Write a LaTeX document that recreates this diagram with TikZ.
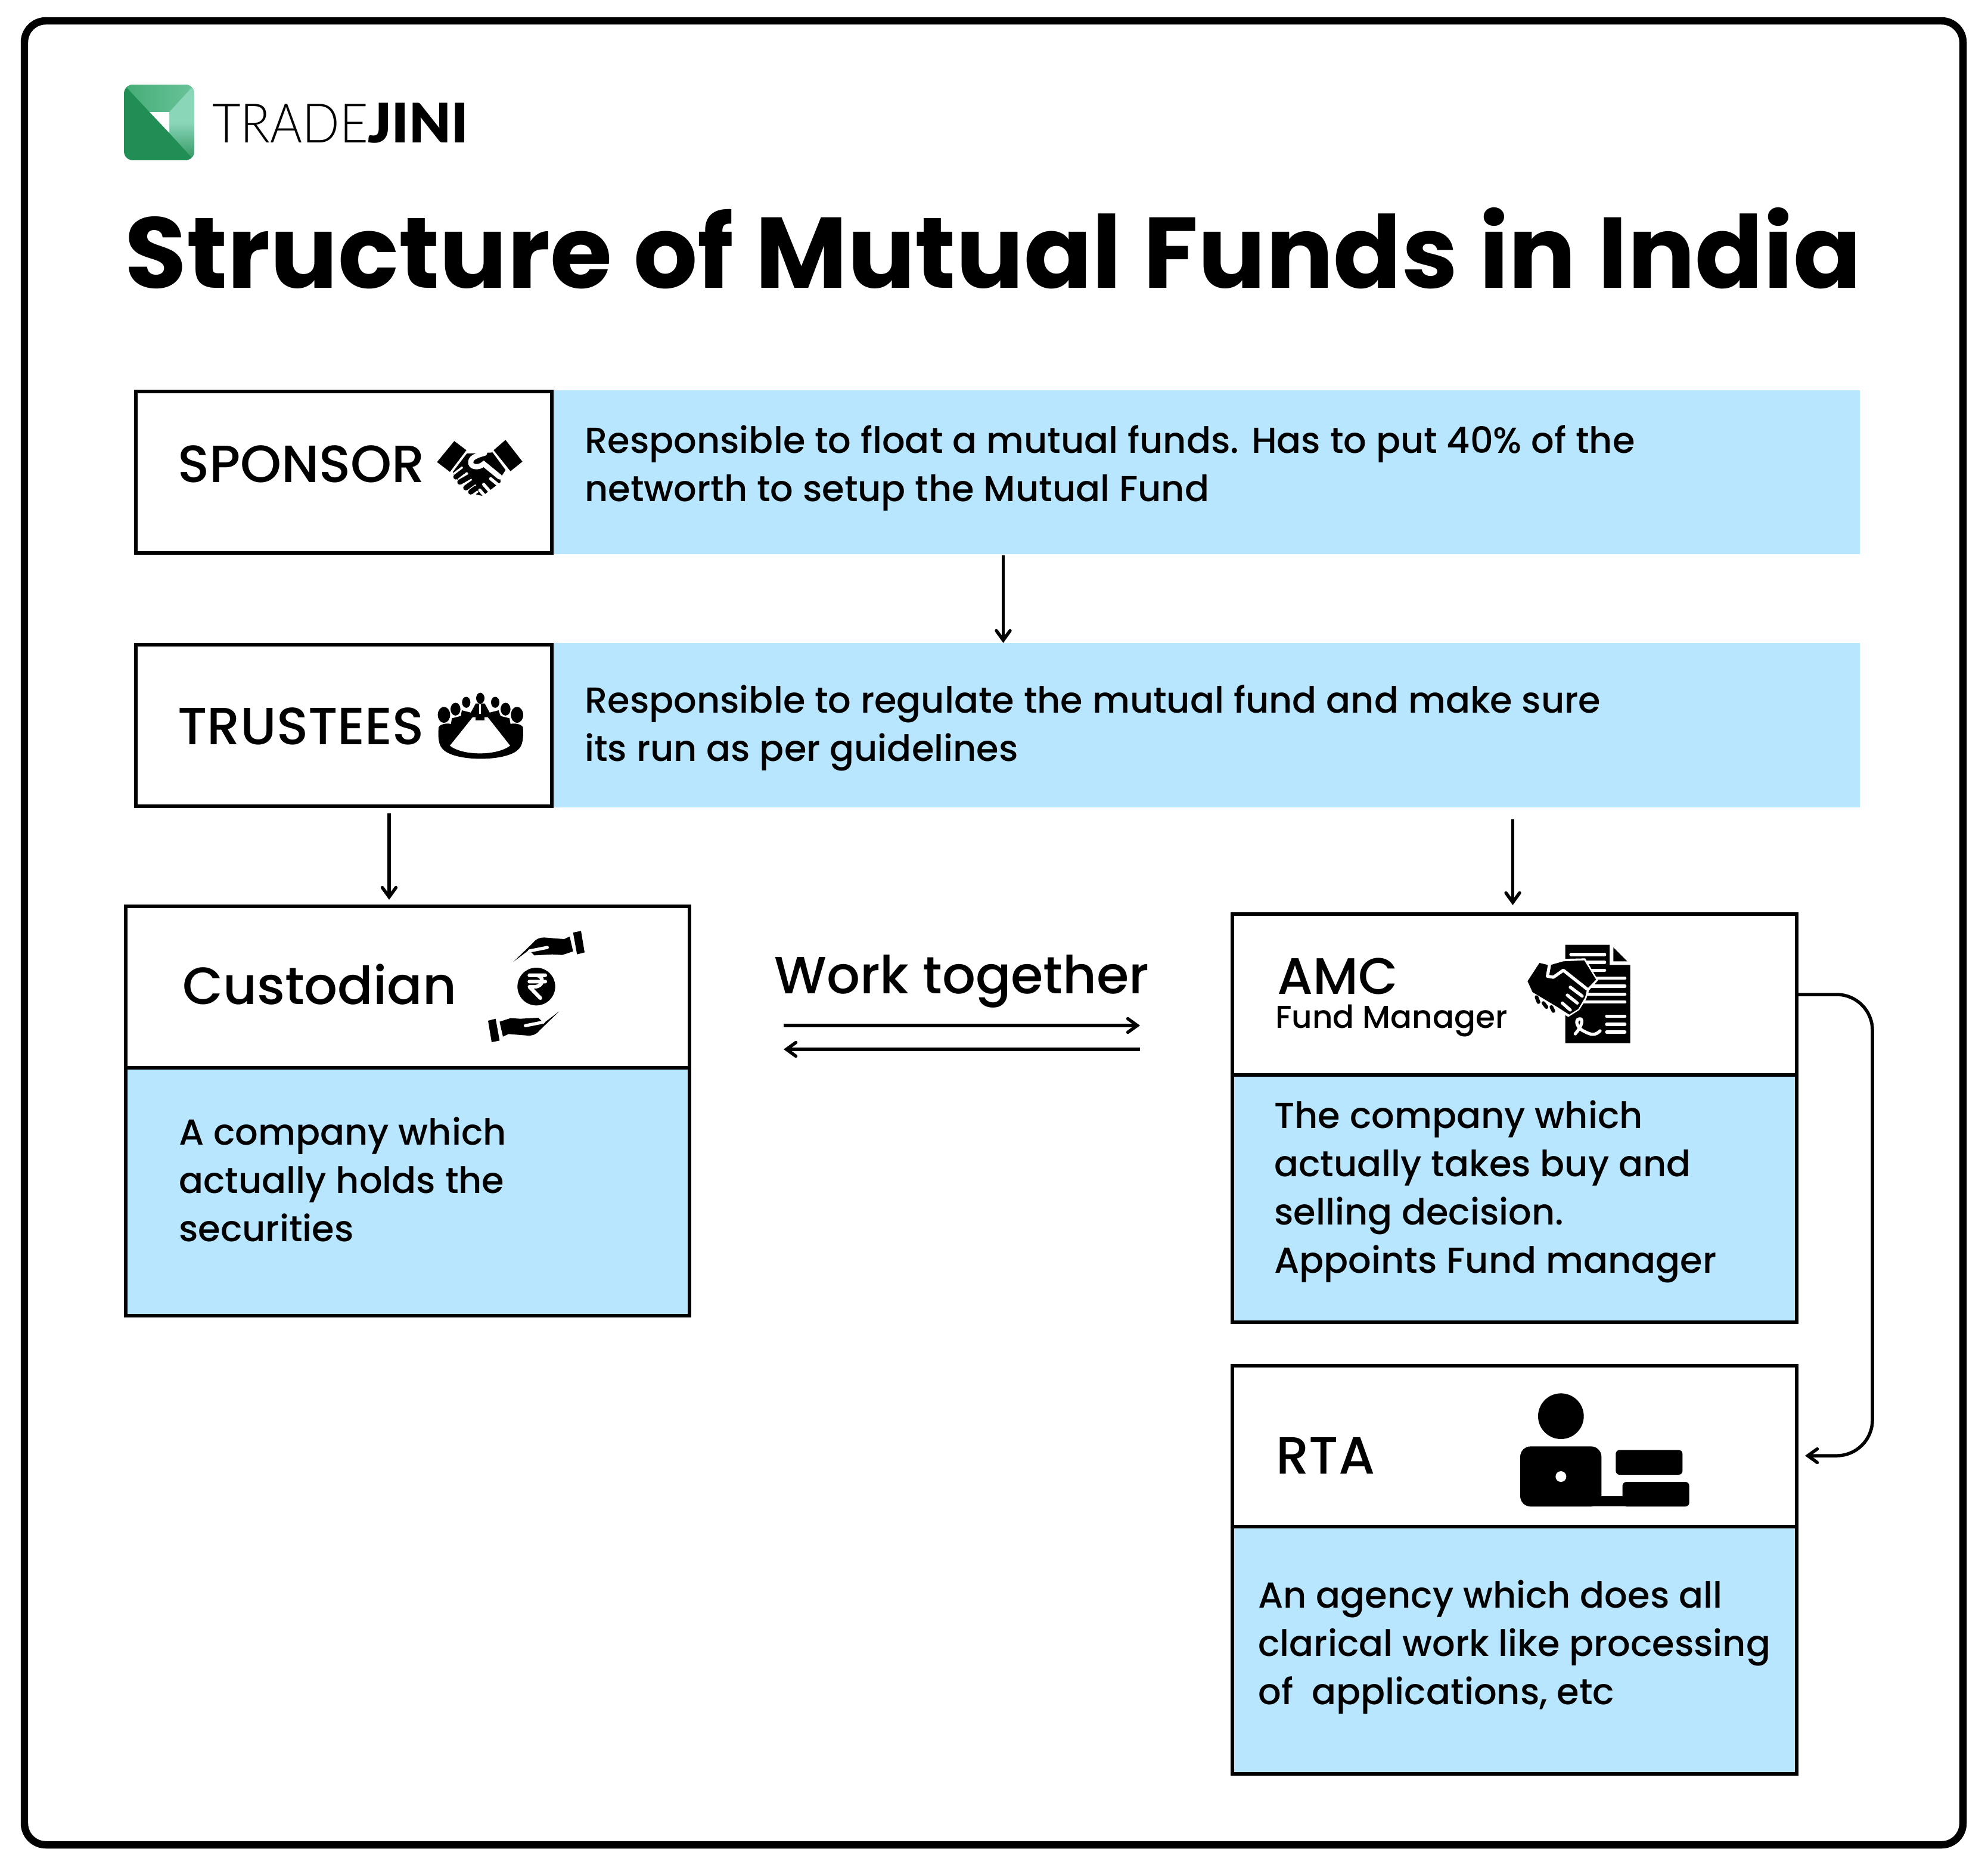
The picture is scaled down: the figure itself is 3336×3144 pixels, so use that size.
\documentclass[tikz,border=0pt]{standalone}
\usepackage{graphicx}
\usepackage{fontspec}
\usetikzlibrary{arrows.meta,calc}
\setmainfont{Poppins}
\newfontfamily\medfont{Poppins Medium}
\newfontfamily\logolight{Lato Light}
\newfontfamily\logobold{Lato Black}
\definecolor{BandBlue}{HTML}{B8E6FF}
\definecolor{LogoDark}{HTML}{218E55}
\definecolor{LogoTopA}{HTML}{44AC75}
\definecolor{LogoTopB}{HTML}{6BC39A}
\definecolor{LogoSideA}{HTML}{8AD6B9}
\definecolor{LogoSideB}{HTML}{2F9660}
\tikzset{
	sz/.style 2 args={minimum width=#1*0.02cm, minimum height=#2*0.02cm},
	frame/.style={draw, line width=12.5*0.5669pt, rounded corners=0.72cm, inner sep=0pt, outer sep=0pt, anchor=north west},
	band/.style={fill=BandBlue, inner sep=0pt, outer sep=0pt, anchor=north west},
	box/.style={draw, line width=6*0.5669pt, inner sep=0pt, outer sep=0pt, anchor=north west},
	bodytext/.style={anchor=base west, inner sep=0pt, align=left, font=\fontsize{34.5}{46}\selectfont\medfont},
	headtext/.style={anchor=base west, inner sep=0pt, font=\fontsize{50}{50}\selectfont\medfont},
	arr/.style={-{Straight Barb[length=9pt, width=13pt, line cap=round]}, line width=5.5*0.5669pt},
}
\begin{document}
\begin{tikzpicture}[x=0.02cm, y=-0.02cm]
	\useasboundingbox (0,0) rectangle (3336,3144);

	% outer frame
	\node[frame, sz={3253}{3061}] (border) at (41,35) {};

	% logo
	\begin{scope}
		\clip[rounded corners=0.3cm] (208,142) rectangle (326,269);
		\fill[LogoDark] (208,142) rectangle (326,269);
		\shade[left color=LogoTopA, right color=LogoTopB] (208,142) -- (326,142) -- (284,188) -- (251,188) -- cycle;
		\shade[top color=LogoSideA, bottom color=LogoSideB, middle color=LogoSideA] (326,142) -- (284,188) -- (284,223) -- (326,269) -- cycle;
		\fill[white] (251,188) -- (284,188) -- (284,223) -- cycle;
	\end{scope}
	\node[anchor=base west, inner sep=0pt, font=\fontsize{52}{52}\selectfont] (logo) at (356,239) {\scalebox{0.9}[1]{\logolight TRADE}\logobold JINI};

	% title
	\node[anchor=base west, inner sep=0pt, font=\fontsize{96}{96}\selectfont\bfseries] (title) at (209,483) {Structure of Mutual Funds in India};

	% top rows
	\node[band, sz={2195}{275}] (sponsorband) at (926,655) {};
	\node[box, fill=white, sz={698}{271}] (sponsorbox) at (228,657) {};
	\node[headtext] (sponsorhead) at (298,809) {SPONSOR};
	\node[bodytext] (sponsortext) at (981,841) {Responsible to float a mutual funds. Has to put 40\% of the\\networth to setup the Mutual Fund};

	\node[band, sz={2195}{276}] (trusteesband) at (926,1079) {};
	\node[box, fill=white, sz={698}{271}] (trusteesbox) at (228,1082) {};
	\node[headtext] (trusteeshead) at (298,1249) {TRUSTEES};
	\node[bodytext] (trusteestext) at (981,1277) {Responsible to regulate the mutual fund and make sure\\its run as per guidelines};

	% custodian
	\node[box, fill=BandBlue, sz={946}{687}] (custbox) at (211,1521) {};
	\node[box, fill=white, sz={946}{271}] (custtop) at (211,1521) {};
	\node[headtext] (custhead) at (306,1685) {Custodian};
	\node[bodytext] (custtext) at (300,2083) {A company which\\actually holds the\\securities};

	% amc
	\node[box, fill=BandBlue, sz={947}{685}] (amcbox) at (2068,1534) {};
	\node[box, fill=white, sz={947}{270}] (amctop) at (2068,1534) {};
	\node[headtext, font=\fontsize{49}{49}\selectfont\medfont] (amchead) at (2143,1668) {AMC};
	\node[anchor=base west, inner sep=0pt, font=\fontsize{30.3}{30}\selectfont\medfont] (fundhead) at (2140,1725) {Fund Manager};
	\node[bodytext] (amctext) at (2138,2136) {The company which\\actually takes buy and\\selling decision.\\Appoints Fund manager};

	% rta
	\node[box, fill=BandBlue, sz={947}{685}] (rtabox) at (2068,2292) {};
	\node[box, fill=white, sz={947}{270}] (rtatop) at (2068,2292) {};
	\node[headtext] (rtahead) at (2141,2473) {RTA};
	\node[bodytext] (rtatext) at (2111,2860) {An agency which does all\\clarical work like processing\\of~ applications, etc};

	% work together
	\node[anchor=base west, inner sep=0pt, font=\fontsize{50}{50}\selectfont\medfont] (worktext) at (1299,1667) {Work together};
	\coordinate (workleftA) at (1315,1721);
	\coordinate (workrightA) at (1913,1721);
	\coordinate (workleftB) at (1315,1761);
	\coordinate (workrightB) at (1913,1761);
	\draw[arr] (workleftA) -- (workrightA);
	\draw[arr] (workrightB) -- (workleftB);

	% connectors
	\draw[arr] ($(sponsorband.south)+(-340,2)$) -- ($(trusteesband.north)+(-340,0)$);
	\draw[arr] ($(trusteesbox.south)+(76,12)$) -- ($(custtop.north)+(-31,-11)$);
	\draw[arr] ($(trusteesband.south)+(515,20)$) -- ($(amctop.north)+(-3,-15)$);
	\draw[arr, rounded corners=1.2cm] (amctop.east) -- ++(127,0) |- ($(rtatop.east)+(14,16)$);

	% handshake icon
	\begin{scope}[shift={(700,700)}, x=0.00667cm, y=-0.00766cm]
		\fill (187,105) -- (248,145) -- (165,240) -- (100,197) -- cycle;
		\fill (445,100) -- (530,195) -- (470,237) -- (385,145) -- cycle;
		\fill (250,160) -- (380,155) -- (445,232) -- (418,268) -- (420,285) -- (360,325) -- (330,345) -- (300,340) -- (190,265) -- (180,240) -- cycle;
		\draw[white, line width=5pt, line cap=round] (415,262) -- (335,205) .. controls (310,225) and (265,220) .. (270,195) .. controls (272,175) and (310,165) .. (340,158);
		\draw[white, line width=3pt, line cap=round] (370,270) -- (405,295) (335,295) -- (365,325) (315,320) -- (335,340);
		\draw[white, line width=9pt] (195,262) -- (240,232) (215,285) -- (265,260) (245,310) -- (285,285) (270,328) -- (295,312);
		\draw[line width=5pt, line cap=round] (195,262) -- (240,232) (215,285) -- (265,260) (245,310) -- (285,285) (270,328) -- (295,312);
	\end{scope}

	% meeting table icon
	\begin{scope}[shift={(700,700)}, x=0.00667cm, y=-0.00766cm]
		\fill (318,1232) circle [x radius=21, y radius=24];
		\fill (247,1250) circle [x radius=21, y radius=24];
		\fill (393,1250) circle [x radius=21, y radius=24];
		\fill (193,1280) circle [x radius=25, y radius=28];
		\fill (445,1280) circle [x radius=25, y radius=28];
		\fill (135,1305) circle [x radius=31, y radius=35];
		\fill (503,1305) circle [x radius=31, y radius=35];
		\fill (108,1360) .. controls (115,1345) and (150,1340) .. (170,1345) -- (175,1320) -- (220,1310) -- (225,1285) -- (270,1295) -- (295,1255) -- (340,1255) -- (365,1295) -- (410,1285) -- (420,1310) -- (465,1320) -- (470,1345) .. controls (490,1340) and (525,1345) .. (533,1360) .. controls (535,1400) and (535,1440) .. (505,1460) .. controls (440,1510) and (200,1510) .. (135,1460) .. controls (105,1440) and (105,1400) .. (108,1360) -- cycle;
		\fill[white] (165,1440) -- (280,1315) -- (355,1315) -- (468,1440) .. controls (400,1485) and (230,1485) .. (165,1440) -- cycle;
		\fill (295,1270) rectangle (340,1330);
		\fill[white] (313,1258) rectangle (322,1300);
	\end{scope}

	% rupee icon
	\begin{scope}[shift={(780,1520)}, x=0.00667cm, y=-0.00667cm]
		\foreach \r in {0,180} {
			\begin{scope}[rotate around={\r:(360,407)}]
				\fill (245,282) -- (345,185) .. controls (360,165) and (380,160) .. (400,160) -- (500,168) -- (528,155) -- (545,230) -- (490,248) -- (440,245) -- (350,250) -- (335,235) -- (320,225) -- cycle;
				\fill (545,135) -- (585,127) -- (603,235) -- (565,245) -- cycle;
				\draw[white, line width=3pt, line cap=round] (325,228) -- (415,210);
			\end{scope}
		}
		\fill (360,407) circle [radius=95];
		\draw[white, line width=3.5pt, line cap=round, line join=round] (325,350) -- (405,350) (325,382) -- (405,382) (360,350) .. controls (400,352) and (400,408) .. (350,408) -- (325,408) -- (380,465);
	\end{scope}

	% agreement icon
	\begin{scope}[shift={(2500,1540)}, x=0.00667cm, y=-0.00667cm]
		\fill (380,137) -- (603,137) -- (603,238) -- (707,238) -- (707,632) -- (380,632) -- cycle;
		\fill (622,150) -- (692,220) -- (622,220) -- cycle;
		\draw[white, line width=3pt, line cap=round] (408,186) -- (578,186) (408,225) -- (578,225) (408,266) -- (578,266) (408,305) -- (680,305) (408,345) -- (680,345) (408,385) -- (680,385) (408,425) -- (680,425) (588,497) -- (680,497) (588,537) -- (680,537) (588,576) -- (680,576);
		\draw[white, line width=3pt, line cap=round] (430,585) .. controls (470,540) and (470,505) .. (450,510) .. controls (425,515) and (440,560) .. (480,575) .. controls (510,590) and (530,595) .. (555,570);
		\fill[white] (280,210) -- (480,205) -- (545,315) -- (500,365) -- (485,410) -- (450,465) -- (395,500) -- (280,430) -- cycle;
		\fill (250,228) -- (300,240) -- (370,220) -- (475,215) -- (535,312) -- (490,358) -- (480,400) -- (445,460) -- (400,488) -- (340,450) -- (215,375) -- (190,320) -- cycle;
		\draw[white, line width=3pt, line cap=round, line join=round] (300,240) -- (290,295) -- (320,300) -- (370,265) -- (490,360);
		\draw[white, line width=3pt, line cap=round] (405,350) -- (465,395) (390,390) -- (440,430) (365,430) -- (405,465);
		\fill[white] (205,385) -- (330,450) -- (340,470) -- (300,490) -- (220,430) -- cycle;
		\draw[line width=3.5pt, line cap=round] (235,400) -- (245,425) (270,430) -- (285,450) (310,450) -- (320,470);
	\end{scope}

	% clerk icon
	\begin{scope}[shift={(2500,2300)}, x=0.00667cm, y=-0.00667cm]
		\fill (358,230) circle [radius=115];
		\fill[rounded corners=0.35cm] (153,382) rectangle (562,685);
		\fill (300,632) rectangle (800,685);
		\fill[rounded corners=0.13cm] (634,400) rectangle (970,525);
		\fill[rounded corners=0.13cm] (668,561) rectangle (1004,685);
		\fill[white] (358,534) circle [radius=27];
	\end{scope}
\end{tikzpicture}
\end{document}
